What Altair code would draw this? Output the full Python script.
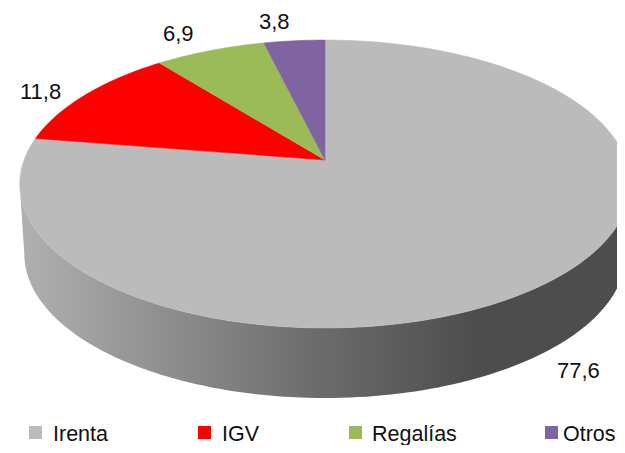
import math
import altair as alt
import pandas as pd

categories = ["Irenta", "IGV", "Regalías", "Otros"]
values = [77.6, 11.8, 6.9, 3.8]
value_labels = ["77,6", "11,8", "6,9", "3,8"]

# Style and layout constants
colors = ["#BBBBBB", "#FF0000", "#9BBB59", "#8064A2"]
label_x = [557, 20, 163, 259]
label_y = [378, 99, 41, 29]
swatch_x = [35.5, 204.5, 355.5, 551.5]
legend_text_x = [53, 222, 372, 563]
CX, CY, A, B, K = 325, 160, 301, 140, 1 / 6
DEPTH, SHRINK = 70, 0.985
W, H = 609, 437


def project(theta):
    """Perspective view of a point on the pie's rim (theta clockwise from 12 o'clock)."""
    u, v = math.sin(theta), math.cos(theta)
    d = 1 + K * v
    return CX + A * u / d, CY - B * v / d


def sx():
    return alt.Scale(domain=[8, W + 8], range=[0, W], nice=False, zero=False)


def sy():
    return alt.Scale(domain=[8, H + 8], range=[0, H], nice=False, zero=False)


def polygon_chart(points, fill):
    df = pd.DataFrame([{"x": p[0], "y": p[1], "i": i} for i, p in enumerate(points + points[:1])])
    is_flat = isinstance(fill, str)
    return alt.Chart(df).mark_line(
        fill=fill, stroke=fill if is_flat else "transparent",
        strokeWidth=0.5 if is_flat else 0, interpolate="linear", clip=True
    ).encode(
        x=alt.X("x:Q", scale=sx(), axis=None),
        y=alt.Y("y:Q", scale=sy(), axis=None),
        order=alt.Order("i:Q"),
    )


# side wall
t0 = math.acos(-K)
wall_thetas = [t0 + (2 * math.pi - 2 * t0) * i / 120 for i in range(121)]
upper = [project(t) for t in wall_thetas]
lower = [(CX + (x - CX) * SHRINK, y + DEPTH) for x, y in upper]
wall_fill = alt.Gradient(
    gradient="linear", x1=0, y1=0, x2=1, y2=0,
    stops=[
        alt.GradientStop(color="#B0B0B0", offset=0),
        alt.GradientStop(color="#6A6A6A", offset=0.5),
        alt.GradientStop(color="#4D4D4D", offset=0.75),
        alt.GradientStop(color="#4D4D4D", offset=1),
    ],
)
layers = [polygon_chart(upper + lower[::-1], wall_fill)]

# pie top
total = sum(values)
cum = 0.0
for val, col in zip(values, colors):
    a0 = cum / total * 2 * math.pi
    cum += val
    a1 = cum / total * 2 * math.pi
    n = max(4, int((a1 - a0) * 40))
    rim = [project(a0 + (a1 - a0) * j / n) for j in range(n + 1)]
    layers.append(polygon_chart([(CX, CY)] + rim, col))

labels = pd.DataFrame({"t": value_labels, "x": label_x, "y": label_y})
layers.append(
    alt.Chart(labels).mark_text(
        font="Liberation Sans", fontSize=22, align="left", baseline="alphabetic", color="#111111"
    ).encode(
        x=alt.X("x:Q", scale=sx(), axis=None),
        y=alt.Y("y:Q", scale=sy(), axis=None),
        text="t:N",
    )
)

legend = pd.DataFrame({
    "c": categories, "x": swatch_x, "tx": legend_text_x, "col": colors,
    "y": [432.5] * 4, "ty": [440.5] * 4,
})
layers.append(
    alt.Chart(legend).mark_square(size=169, opacity=1, filled=True).encode(
        x=alt.X("x:Q", scale=sx(), axis=None),
        y=alt.Y("y:Q", scale=sy(), axis=None),
        fill=alt.Fill("col:N", scale=None),
    )
)
layers.append(
    alt.Chart(legend).mark_text(
        font="Liberation Sans", fontSize=21.5, align="left", baseline="alphabetic", color="#111111"
    ).encode(
        x=alt.X("tx:Q", scale=sx(), axis=None),
        y=alt.Y("ty:Q", scale=sy(), axis=None),
        text="c:N",
    )
)

chart = alt.layer(*layers).properties(
    width=W, height=H, padding=0, background="white",
    autosize=alt.AutoSizeParams(type="none"),
).configure_view(stroke=None)

chart.save("out.html", embed_options={"renderer": "svg", "actions": False})
